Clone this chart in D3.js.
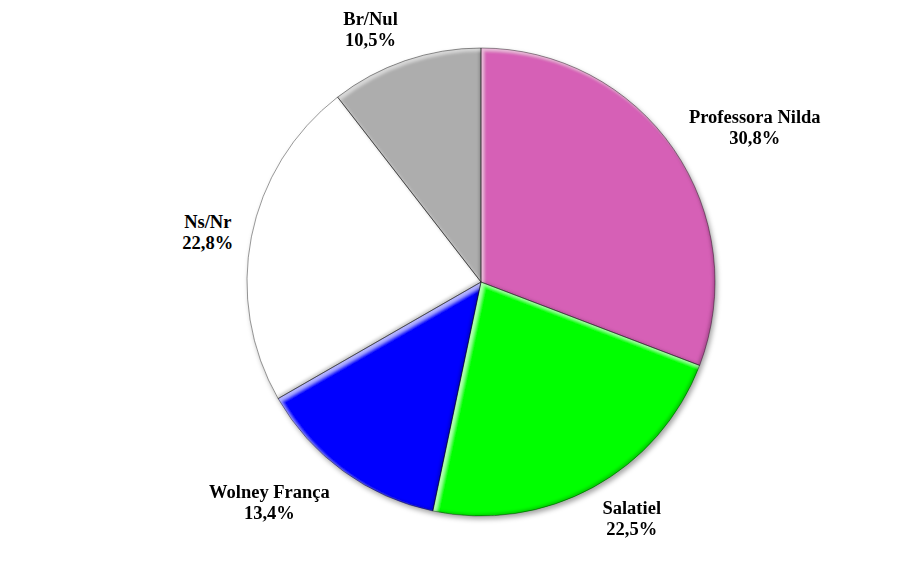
<!DOCTYPE html>
<html>
<head>
<style>
body {margin: 0; background: #fff;}
text {font-family: "Liberation Serif", "Times New Roman", serif; font-weight: bold; fill: #000;}
</style>
<script src="https://cdnjs.cloudflare.com/ajax/libs/d3/7.8.5/d3.min.js"></script>
</head>
<body>
<div id="chart-container"></div>
<script>
    // data
    const categories = ["Professora Nilda", "Salatiel", "Wolney França", "Ns/Nr", "Br/Nul"];
    const values = [30.8, 22.5, 13.4, 22.8, 10.5];
    const colors = ["#D661B6", "#00FF00", "#0000FF", "#FFFFFF", "#ADADAD"];

    const containerWidth = 903;
    const containerHeight = 562;
    const cx = 481, cy = 282, radius = 234;
    const labelGap = 18;
    const lineH = 21;
    // small hand nudges so the labels sit where the original has them
    const labelNudge = {
        "Professora Nilda": [12, 0],
        "Salatiel": [16, -3],
        "Wolney França": [-28, 0],
        "Ns/Nr": [-1, 3],
        "Br/Nul": [-20, 5]
    };

    const data = categories.map((c, i) => ({name: c, value: values[i], color: colors[i]}));

    const svg = d3.select("#chart-container")
        .append("svg")
        .attr("width", containerWidth)
        .attr("height", containerHeight);

    const defs = svg.append("defs");

    // soft drop shadow under the whole pie
    const shadow = defs.append("filter").attr("id", "shadow")
        .attr("x", "-10%").attr("y", "-10%").attr("width", "120%").attr("height", "120%");
    shadow.append("feDropShadow")
        .attr("dx", 2).attr("dy", 3).attr("stdDeviation", 2.5)
        .attr("flood-color", "#000").attr("flood-opacity", 0.35);

    // bevel: light strip on the upper-left edges, dark strip on the lower-right ones
    const bevel = defs.append("filter").attr("id", "bevel")
        .attr("x", "-5%").attr("y", "-5%").attr("width", "110%").attr("height", "110%");
    bevel.append("feGaussianBlur").attr("in", "SourceAlpha").attr("stdDeviation", 1.6).attr("result", "b");
    bevel.append("feOffset").attr("in", "b").attr("dx", 3).attr("dy", 3).attr("result", "bo");
    bevel.append("feComposite").attr("in", "SourceAlpha").attr("in2", "bo").attr("operator", "out").attr("result", "hi");
    bevel.append("feFlood").attr("flood-color", "#fff").attr("flood-opacity", 0.45).attr("result", "hiF");
    bevel.append("feComposite").attr("in", "hiF").attr("in2", "hi").attr("operator", "in").attr("result", "hiC");
    bevel.append("feOffset").attr("in", "b").attr("dx", -2.5).attr("dy", -2.5).attr("result", "bo2");
    bevel.append("feComposite").attr("in", "SourceAlpha").attr("in2", "bo2").attr("operator", "out").attr("result", "sh");
    bevel.append("feFlood").attr("flood-color", "#000").attr("flood-opacity", 0.4).attr("result", "shF");
    bevel.append("feComposite").attr("in", "shF").attr("in2", "sh").attr("operator", "in").attr("result", "shC");
    const merge = bevel.append("feMerge");
    merge.append("feMergeNode").attr("in", "SourceGraphic");
    merge.append("feMergeNode").attr("in", "shC");
    merge.append("feMergeNode").attr("in", "hiC");

    const pie = d3.pie()
        .sort(null)
        .value(d => d.value);

    const arc = d3.arc()
        .innerRadius(0)
        .outerRadius(radius);

    const arcs = pie(data);

    const g = svg.append("g")
        .attr("transform", `translate(${cx},${cy})`)
        .attr("filter", "url(#shadow)");

    g.selectAll("path.slice")
        .data(arcs)
        .join("path")
            .attr("class", "slice")
            .attr("d", arc)
            .attr("fill", d => d.data.color)
            .attr("filter", "url(#bevel)");

    // thin dark rim on every slice edge, drawn over the bevel
    g.selectAll("path.rim")
        .data(arcs)
        .join("path")
            .attr("class", "rim")
            .attr("d", arc)
            .attr("fill", "none")
            .attr("stroke", "rgba(0,0,0,0.4)")
            .attr("stroke-width", 1)
            .attr("stroke-linejoin", "round");

    // labels outside the pie, box pushed out along the mid angle
    const fmt = v => d3.format(".1f")(v).replace(".", ",") + "%";

    svg.append("g")
        .selectAll("text")
        .data(arcs)
        .join("text")
            .attr("text-anchor", "middle")
            .style("font-size", "18.5px")
            .each(function(d) {
                const a = (d.startAngle + d.endAngle) / 2;
                const s = Math.sin(a), c = Math.cos(a);
                const t = d3.select(this);
                t.append("tspan").attr("x", 0).attr("dy", 0).text(d.data.name);
                t.append("tspan").attr("x", 0).attr("dy", lineH).text(fmt(d.data.value));
                const bb = this.getBBox();
                const r = radius + labelGap;
                const nx = labelNudge[d.data.name] || [0, 0];
                const x = cx + r * s + s * bb.width / 2 + nx[0];
                const y = cy - r * c - c * bb.height / 2 + nx[1];
                t.attr("transform", `translate(${x},${y - lineH / 2 + 6})`);
            });
</script>
</body>
</html>
